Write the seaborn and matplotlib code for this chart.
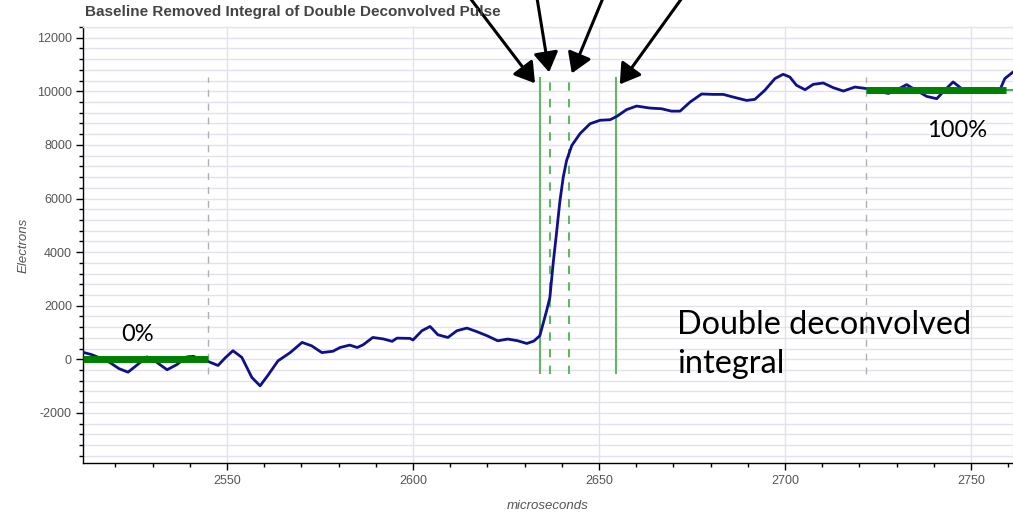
import matplotlib
matplotlib.use("Agg")
import matplotlib.pyplot as plt
from matplotlib.ticker import MultipleLocator
import seaborn as sns
import pandas as pd

# ---------------- data ----------------
time_us = [2511.3, 2513.5, 2515.5, 2518.5, 2521.0, 2523.4, 2525.5, 2528.5, 2530.5, 2533.9,
           2536.5, 2539.2, 2541.0, 2542.7, 2544.9, 2547.6, 2549.5, 2551.6, 2554.0, 2556.7,
           2558.9, 2561.0, 2563.7, 2567.0, 2570.2, 2572.8, 2575.5, 2578.5, 2580.4, 2583.0,
           2585.0, 2586.6, 2589.2, 2592.0, 2594.4, 2595.7, 2599.2, 2600.0, 2602.4, 2604.6,
           2606.7, 2609.4, 2611.8, 2614.5, 2617.2, 2619.9, 2622.8, 2625.5, 2628.2, 2630.6,
           2632.5, 2634.1, 2635.9, 2636.8, 2637.7, 2638.5, 2639.5, 2640.4, 2641.3, 2642.7,
           2644.9, 2647.6, 2650.3, 2653.0, 2654.8, 2657.4, 2660.1, 2663.7, 2666.8, 2669.5,
           2671.8, 2674.5, 2677.6, 2680.7, 2683.4, 2686.1, 2689.7, 2691.9, 2694.6, 2697.3,
           2699.5, 2701.3, 2703.1, 2705.4, 2707.6, 2710.3, 2713.0, 2715.7, 2718.8, 2722.0,
           2725.0, 2727.8, 2730.0, 2732.7, 2735.0, 2738.1, 2740.8, 2743.0, 2745.2, 2747.5,
           2749.7, 2753.2, 2757.8, 2759.1, 2761.3]
electrons = [260, 180, 70, -120, -350, -480, -250, 90, -50, -390,
             -200, 90, 110, 10, -80, -230, 50, 320, 70, -680,
             -990, -600, -60, 250, 630, 500, 250, 300, 440, 530,
             440, 540, 815, 760, 670, 790, 780, 720, 1065, 1225,
             915, 815, 1065, 1165, 1030, 880, 690, 755, 690, 590,
             680, 880, 1800, 2300, 3600, 4600, 5900, 6800, 7420, 7980,
             8420, 8790, 8920, 8940, 9065, 9315, 9450, 9375, 9350, 9260,
             9260, 9600, 9900, 9885, 9885, 9785, 9660, 9700, 10040, 10475,
             10635, 10535, 10225, 10060, 10260, 10310, 10135, 10010, 10160, 10100,
             10000, 9920, 10050, 10250, 10060, 9810, 9725, 10050, 10350, 10100,
             9950, 10000, 10060, 10475, 10720]

# timing markers
solid_markers = [2634.1, 2654.6]
dashed_markers = [2636.8, 2641.9]
window_markers = [2544.9, 2721.8]
marker_span = [-550, 10530]

# baseline levels (0% and 100%)
level_0 = 0
level_100 = 10040
level_0_span = [2511.3, 2544.9]
level_100_span = [2721.8, 2759.5]

title = "Baseline Removed Integral of Double Deconvolved Pulse"
xlabel = "microseconds"
ylabel = "Electrons"

# ---------------- figure ----------------
sns.set_style("white")
plt.rcParams["font.family"] = ["Liberation Sans", "DejaVu Sans"]
plt.rcParams["axes.unicode_minus"] = False

fig = plt.figure(figsize=(10.13, 5.13), dpi=100)
W, H = 1013, 513
ax = fig.add_axes([83 / W, 1 - 463 / H, (1013 - 83) / W, (463 - 27) / H])

df = pd.DataFrame({"t": time_us, "e": electrons})

ax.set_xlim(2511.3, 2761.3)
ax.set_ylim(-3870, 12400)

# grid
grid_c = "#e2e2ec"
ax.xaxis.set_major_locator(MultipleLocator(50))
ax.xaxis.set_minor_locator(MultipleLocator(10))
ax.yaxis.set_major_locator(MultipleLocator(2000))
ax.yaxis.set_minor_locator(MultipleLocator(400))
ax.grid(which="both", axis="y", color=grid_c, lw=1)
ax.grid(which="major", axis="x", color=grid_c, lw=1)
ax.set_axisbelow(True)

# window markers (grey dashed)
ax.vlines(window_markers, marker_span[0], marker_span[1], colors="#b0b0b0",
          linestyles=(0, (5, 5)), lw=1, zorder=2)
# timing markers
ax.vlines(solid_markers, marker_span[0], marker_span[1], colors="#62b862", lw=1.5, zorder=2)
ax.vlines(dashed_markers, marker_span[0], marker_span[1], colors="#62b862",
          linestyles=(0, (4, 4)), lw=1.5, zorder=2)

# curve
sns.lineplot(data=df, x="t", y="e", sort=False, color="#10108a", lw=2, ax=ax, zorder=3)

# level lines
ax.hlines(level_100, level_100_span[0], 2765, colors="#4caf50", lw=1.5, zorder=4)
ax.hlines(level_0, level_0_span[0], level_0_span[1], colors="#008000", lw=5, zorder=4)
ax.hlines(level_100, level_100_span[0], level_100_span[1], colors="#008000", lw=5, zorder=4)

# spines
for s in ["top", "right"]:
    ax.spines[s].set_color("#e5e5e5")
    ax.spines[s].set_linewidth(1)
for s in ["left", "bottom"]:
    ax.spines[s].set_color("black")
    ax.spines[s].set_linewidth(1)

ax.tick_params(which="both", bottom=True, left=True, top=False, right=False)
ax.tick_params(which="major", direction="out", length=5, width=1, color="black",
               labelsize=9, labelcolor="#555555", pad=3)
ax.tick_params(which="minor", direction="out", length=3, width=1, color="black")
ax.tick_params(axis="x", which="major", pad=4)

ax.set_xlabel(xlabel, fontsize=9.5, style="italic", color="#555555", labelpad=9)
ax.set_ylabel(ylabel, fontsize=9.5, style="italic", color="#555555", labelpad=5)

fig.text(85 / W, 1 - 12 / H, title, fontsize=11, fontweight="bold", color="#444444",
         ha="left", va="center")

# annotations
ann_font = ["Lato", "DejaVu Sans"]
ax.text(2526.1, 935, "0%", fontsize=17, family=ann_font, ha="center", va="center", color="black")
ax.text(2746.4, 8540, "100%", fontsize=17, family=ann_font, ha="center", va="center", color="black")
ax.text(2671.0, -505, "Double deconvolved\nintegral", fontsize=23.3, family=ann_font,
        ha="left", va="baseline", color="black", linespacing=1.38)

# arrows (start above the figure, tips at the markers)
arrow_tips = [(2632.8, 10300), (2636.6, 10710), (2642.7, 10670), (2655.6, 10260)]
arrow_starts_px = [(470, -2), (537, -2), (603, -2), (682, -2)]
for (tx, ty), (sx, sy) in zip(arrow_tips, arrow_starts_px):
    ax.annotate("", xy=(tx, ty), xycoords="data",
                xytext=(sx, H - sy), textcoords="figure pixels",
                arrowprops=dict(arrowstyle="-|>,head_length=1.2,head_width=0.75",
                                color="black", lw=2.2, shrinkA=0, shrinkB=0),
                annotation_clip=False)

fig.savefig("out.png", dpi=100)
